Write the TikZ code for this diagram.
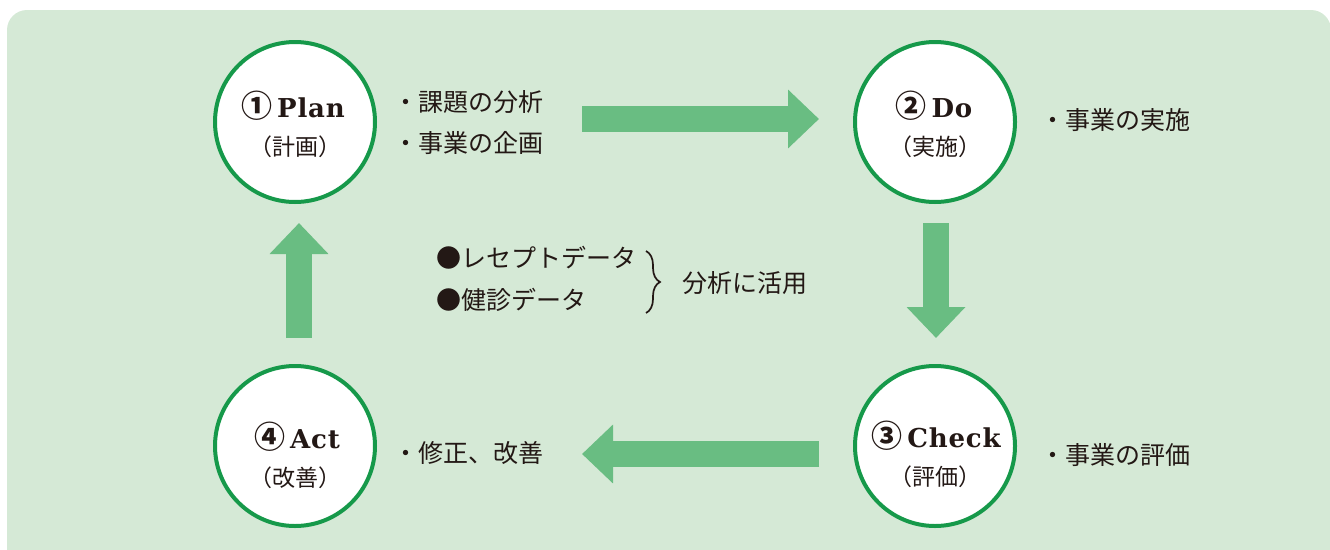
\documentclass[tikz,border=0pt]{standalone}
\usepackage{fontspec}
\setmainfont{DejaVu Serif}
\newfontfamily\cjk{Noto Sans CJK JP}
\usetikzlibrary{arrows.meta,decorations.pathreplacing}
\definecolor{bgc}{HTML}{D5E9D6}
\definecolor{arrc}{HTML}{69BD82}
\definecolor{ringc}{HTML}{16994A}
\definecolor{txt}{HTML}{231815}
\tikzset{
  ring/.style={circle, draw=ringc, line width=4pt, fill=white, minimum size=160pt, inner sep=0pt},
  title/.style={anchor=base, text=txt, inner sep=0pt},
  sub/.style={text=txt, inner sep=0pt, font=\cjk\fontsize{23}{27}\selectfont},
  side/.style={anchor=west, text=txt, inner sep=0pt, font=\cjk\fontsize{25}{30}\selectfont},
  blockarrow/.style={draw=arrc, line width=26pt, -{Triangle[length=31pt,width=57pt]}},
}
\newcommand{\cnum}[1]{{\cjk\bfseries\fontsize{31}{34}\selectfont #1}\hspace{5pt}}
\newcommand{\ttl}[1]{{\addfontfeatures{LetterSpace=3}\bfseries\fontsize{26}{30}\selectfont #1}}
\begin{document}
\begin{tikzpicture}[x=1pt,y=-1pt]
\useasboundingbox (0,0) rectangle (1330,549);
\clip (0,0) rectangle (1330,549);
\fill[bgc, rounded corners=20pt] (7,10) rectangle (1331,590);

% circles
\node[ring] (plan) at (295,122) {};
\node[ring] (do) at (935,122) {};
\node[ring] (check) at (935,446) {};
\node[ring] (act) at (295,446) {};

% titles
\node[title] (planT) at (293,117) {\cnum{①}\ttl{Plan}};
\node[sub] (planS) at (295,147) {（計画）};
\node[title] (doT) at (934,117) {\cnum{②}\ttl{Do}};
\node[sub] (doS) at (935,147) {（実施）};
\node[title] (checkT) at (936,447) {\cnum{③}\ttl{Check}};
\node[sub] (checkS) at (935,477) {（評価）};
\node[title] (actT) at (297,448) {\cnum{④}\ttl{Act}};
\node[sub] (actS) at (295,478) {（改善）};

% side texts
\node[side] (p1) at (393,102) {・課題の分析};
\node[side] (p2) at (393,143) {・事業の企画};
\node[side] (d1) at (1040,120) {・事業の実施};
\node[side] (c1) at (1040,455) {・事業の評価};
\node[side] (a1) at (393,453) {・修正、改善};

% middle
\node[side] (m1) at (436,258) {●レセプトデータ};
\node[side] (m2) at (436,300) {●健診データ};
\node[side] (m3) at (682,283) {分析に活用};
\coordinate (bt) at (646,251);
\coordinate (bb) at (646,313);
\draw[txt, line width=1.7pt, decorate, decoration={brace, amplitude=14pt}] (bt) -- (bb);

% block arrows
\coordinate (r1) at (582,119); \coordinate (r2) at (819,119);
\coordinate (d1s) at (936,223); \coordinate (d1e) at (936,338);
\coordinate (l1) at (819,454); \coordinate (l2) at (582,454);
\coordinate (u1) at (299,338); \coordinate (u2) at (299,223);
\draw[blockarrow] (r1) -- (r2);
\draw[blockarrow] (d1s) -- (d1e);
\draw[blockarrow] (l1) -- (l2);
\draw[blockarrow] (u1) -- (u2);
\end{tikzpicture}
\end{document}
